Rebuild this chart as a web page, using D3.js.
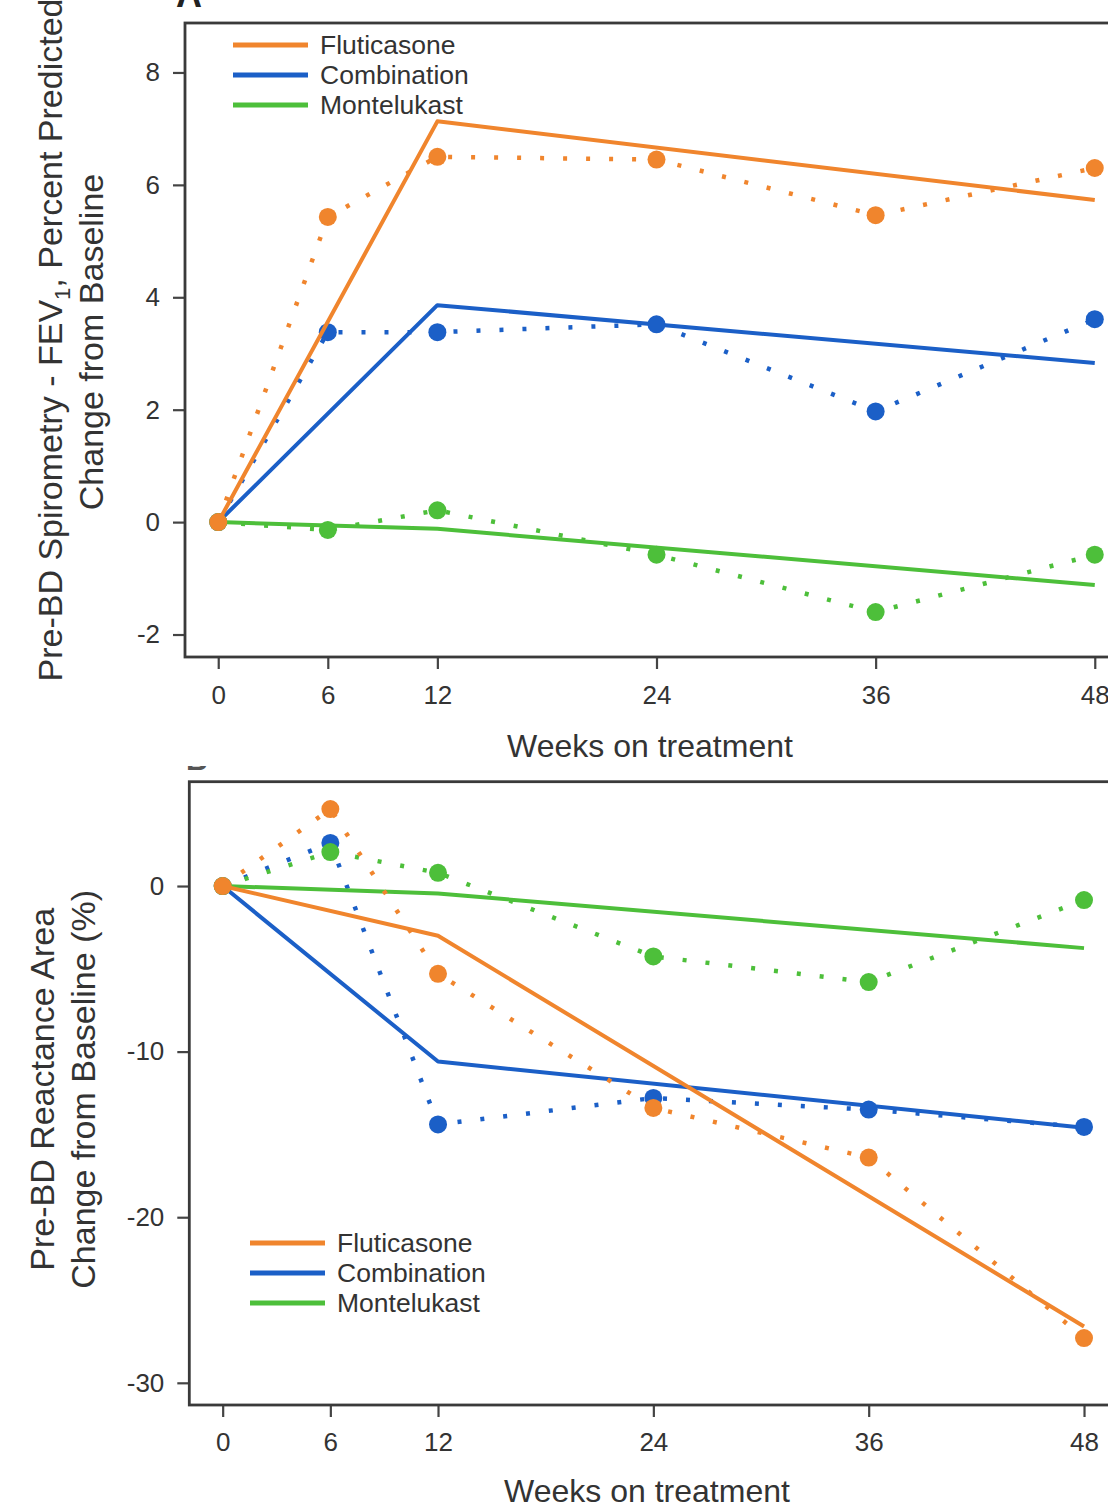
<!DOCTYPE html>
<html>
<head>
<meta charset="utf-8">
<script src="https://cdn.jsdelivr.net/npm/d3@7/dist/d3.min.js"></script>
<style>
body { margin: 0; background: #fff; }
svg { display: block; font-family: "Liberation Sans", Arial, sans-serif; }
</style>
</head>
<body>
<div id="chart-area"></div>
<script>
// shared
var weeks = [0, 6, 12, 24, 36, 48];
var knotWeeks = [0, 12, 48];
var xTicks = [0, 6, 12, 24, 36, 48];
var treatments = ["Fluticasone", "Combination", "Montelukast"];
var colors = ["#f0852d", "#1b5fc7", "#4dbf3a"];

// panel A - FEV1 percent predicted, change from baseline
var fevFluticasone = [0, 5.43, 6.5, 6.45, 5.46, 6.3];
var fevCombination = [0, 3.38, 3.38, 3.52, 1.97, 3.61];
var fevMontelukast = [0, -0.14, 0.21, -0.58, -1.6, -0.58];
var fevFitFluticasone = [0, 7.13, 5.73];
var fevFitCombination = [0, 3.86, 2.83];
var fevFitMontelukast = [0, -0.12, -1.12];
var fevTicks = [-2, 0, 2, 4, 6, 8];

// panel B - reactance area, % change from baseline
var axFluticasone = [0, 4.65, -5.3, -13.4, -16.4, -27.3];
var axCombination = [0, 2.6, -14.4, -12.8, -13.5, -14.55];
var axMontelukast = [0, 2.05, 0.8, -4.25, -5.8, -0.85];
var axFitFluticasone = [0, -3.0, -26.6];
var axFitCombination = [0, -10.6, -14.6];
var axFitMontelukast = [0, -0.45, -3.75];
var axTicks = [-30, -20, -10, 0];

var W = 1108, H = 1504;

var svg = d3.select("#chart-area")
    .append("svg")
    .attr("width", W)
    .attr("height", H);

// panel letters, mostly cropped off in the original
svg.append("text")
    .attr("x", 176).attr("y", 7)
    .attr("font-size", "36px").attr("font-weight", "bold")
    .attr("fill", "#222")
    .text("A");

svg.append("clipPath").attr("id", "clipB")
    .append("rect").attr("x", 180).attr("y", 766).attr("width", 60).attr("height", 5);
svg.append("text")
    .attr("clip-path", "url(#clipB)")
    .attr("x", 186).attr("y", 770)
    .attr("font-size", "30px").attr("font-weight", "bold")
    .attr("fill", "#555")
    .text("B");

function drawPanel(p) {
    var x = d3.scaleLinear().domain(p.xDomain).range([p.left, p.right]);
    var y = d3.scaleLinear().domain(p.yDomain).range([p.bottom, p.top]);

    var g = svg.append("g");

    // y axis (plain hyphen minus like the original)
    var leftAxis = d3.axisLeft(y)
        .tickValues(p.yTicks)
        .tickSize(12)
        .tickPadding(13)
        .tickFormat(function(d) { return String(d); });
    var ya = g.append("g")
        .attr("transform", "translate(" + p.left + ",0)")
        .call(leftAxis);

    // x axis
    var bottomAxis = d3.axisBottom(x)
        .tickValues(xTicks)
        .tickSize(12)
        .tickPadding(p.xPad);
    var xa = g.append("g")
        .attr("transform", "translate(0," + p.bottom + ")")
        .call(bottomAxis);

    [ya, xa].forEach(function(a) {
        a.select(".domain").remove();
        a.selectAll(".tick line").attr("stroke", "#444").attr("stroke-width", 2.2);
        a.selectAll(".tick text")
            .attr("fill", "#333")
            .attr("font-size", "26px")
            .attr("font-family", "Liberation Sans, Arial, sans-serif");
    });

    // frame
    g.append("rect")
        .attr("x", p.left).attr("y", p.top)
        .attr("width", p.right - p.left).attr("height", p.bottom - p.top)
        .attr("fill", "none")
        .attr("stroke", "#3a3a3a")
        .attr("stroke-width", 2.8);

    var line = d3.line()
        .x(function(d) { return x(d[0]); })
        .y(function(d) { return y(d[1]); });

    // draw order: Combination, Montelukast, Fluticasone (orange ends on top)
    [1, 2, 0].forEach(function(i) {
        var obs = weeks.map(function(w, j) { return [w, p.observed[i][j]]; });
        var fit = knotWeeks.map(function(w, j) { return [w, p.fitted[i][j]]; });

        g.append("path")
            .datum(obs)
            .attr("d", line)
            .attr("fill", "none")
            .attr("stroke", colors[i])
            .attr("stroke-width", 4.5)
            .attr("stroke-dasharray", "4,19");

        g.append("path")
            .datum(fit)
            .attr("d", line)
            .attr("fill", "none")
            .attr("stroke", colors[i])
            .attr("stroke-width", 4)
            .attr("stroke-linejoin", "round");

        g.selectAll(null)
            .data(obs)
            .enter()
            .append("circle")
            .attr("cx", function(d) { return x(d[0]); })
            .attr("cy", function(d) { return y(d[1]); })
            .attr("r", 9)
            .attr("fill", colors[i]);
    });

    // legend
    var legend = g.append("g");
    treatments.forEach(function(t, i) {
        var ly = p.legY + i * 30;
        legend.append("line")
            .attr("x1", p.legX).attr("x2", p.legX + 75)
            .attr("y1", ly).attr("y2", ly)
            .attr("stroke", colors[i])
            .attr("stroke-width", 5);
        legend.append("text")
            .attr("x", p.legX + 87)
            .attr("y", ly + 9)
            .attr("font-size", "26.5px")
            .attr("fill", "#333")
            .text(t);
    });

    // x axis label
    g.append("text")
        .attr("x", p.xLabelX)
        .attr("y", p.xLabelY)
        .attr("text-anchor", "middle")
        .attr("font-size", "32px")
        .attr("fill", "#333")
        .text("Weeks on treatment");

    // y axis label (two lines)
    var cy = (p.top + p.bottom) / 2;
    p.yLabel.forEach(function(lbl, k) {
        var t = g.append("text")
            .attr("transform", "translate(" + p.yLabelX[k] + "," + (cy + p.yLabelShift[k]) + ") rotate(-90)")
            .attr("text-anchor", "middle")
            .attr("font-size", "34px")
            .attr("fill", "#333");
        lbl.forEach(function(part) {
            var s = t.append("tspan").text(part.t);
            if (part.sub) s.attr("font-size", "22px").attr("dy", 8);
            else if (part.after) s.attr("dy", -8);
        });
    });
}

drawPanel({
    left: 185, right: 1128, top: 23, bottom: 657,
    xDomain: [-1.82, 49.82], yDomain: [-2.4, 8.88],
    yTicks: fevTicks, xPad: 17,
    observed: [fevFluticasone, fevCombination, fevMontelukast],
    fitted: [fevFitFluticasone, fevFitCombination, fevFitMontelukast],
    legX: 233, legY: 45,
    xLabelX: 650, xLabelY: 757,
    yLabelX: [62, 103], yLabelShift: [0, 2],
    yLabel: [
        [{t: "Pre-BD Spirometry - FEV"}, {t: "1", sub: true}, {t: ", Percent Predicted", after: true}],
        [{t: "Change from Baseline"}]
    ]
});

drawPanel({
    left: 189.3, right: 1117.4, top: 781.7, bottom: 1405,
    xDomain: [-1.86, 49.86], yDomain: [-31.34, 6.3],
    yTicks: axTicks, xPad: 16,
    observed: [axFluticasone, axCombination, axMontelukast],
    fitted: [axFitFluticasone, axFitCombination, axFitMontelukast],
    legX: 250, legY: 1243,
    xLabelX: 647, xLabelY: 1502,
    yLabelX: [54, 95], yLabelShift: [-4, -4],
    yLabel: [
        [{t: "Pre-BD Reactance Area"}],
        [{t: "Change from Baseline (%)"}]
    ]
});
</script>
</body>
</html>
